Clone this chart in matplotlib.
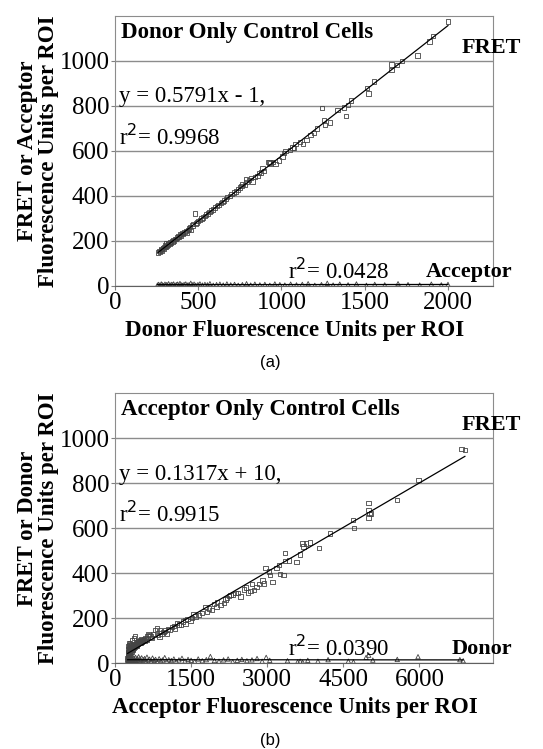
import numpy as np
import matplotlib
matplotlib.use("Agg")
import matplotlib.pyplot as plt

plt.rcParams['font.family'] = 'Liberation Serif'

# ---- panel (a): donor only control cells ----
donor_a = [259, 265, 270, 275, 280, 283, 288, 292, 298, 300, 305, 310, 312, 318, 322,
           328, 332, 338, 345, 350, 355, 360, 366, 372, 378, 385, 390, 398, 405, 410,
           418, 425, 430, 438, 445, 452, 458, 465, 470, 480, 485, 492, 500, 510, 520,
           530, 540, 548, 558, 568, 578, 590, 600, 612, 622, 635, 645, 655, 665, 672,
           690, 700, 715, 725, 738, 750, 760, 766, 780, 786, 790, 806, 816, 826, 842,
           855, 866, 876, 885, 896, 921, 929, 935, 950, 965, 985, 1005, 1015, 1025, 1050,
           1065, 1075, 1085, 1110, 1130, 1150, 1174, 1194, 1215, 1244, 1254, 1262, 1290, 1337, 1377,
           1387, 1400, 1419, 1512, 1522, 1556, 1661, 1661, 1695, 1725, 1817, 1890, 1910, 2000]
fret_a = [148, 155, 152, 160, 165, 158, 170, 166, 172, 180, 175, 188, 178, 184, 190,
          186, 195, 192, 198, 205, 200, 210, 208, 215, 220, 218, 228, 224, 236, 230,
          240, 245, 238, 250, 255, 262, 250, 268, 275, 322, 278, 282, 290, 292, 300,
          305, 312, 318, 322, 330, 335, 340, 348, 355, 360, 368, 372, 380, 386, 395,
          400, 408, 415, 420, 428, 437, 445, 452, 450, 476, 462, 470, 479, 465, 484,
          490, 501, 505, 523, 512, 552, 548, 545, 552, 542, 557, 575, 590, 601, 605,
          615, 612, 631, 641, 631, 650, 670, 681, 700, 790, 738, 715, 726, 782, 794,
          756, 805, 824, 879, 856, 908, 985, 960, 982, 1000, 1024, 1086, 1111, 1175]

acc_x_a = [255, 262, 270, 278, 285, 292, 300, 308, 315, 322, 330, 338, 345, 352, 360,
           368, 375, 383, 390, 398, 405, 415, 425, 435, 445, 455, 465, 475, 485, 498,
           510, 525, 540, 555, 570, 590, 610, 630, 650, 672, 695, 718, 740, 765, 790,
           815, 840, 870, 900, 930, 960, 990, 1020, 1055, 1090, 1125, 1160, 1200, 1240, 1275,
           1310, 1350, 1400, 1450, 1510, 1560, 1620, 1700, 1760, 1830, 1900, 1960, 2000]
acc_y_a = [4, 7, 3, 9, 5, 2, 8, 6, 4, 10, 3, 7, 5, 9, 2,
           6, 8, 4, 11, 5, 3, 7, 9, 4, 6, 12, 5, 8, 3, 6,
           9, 4, 7, 5, 10, 3, 6, 8, 4, 9, 5, 7, 3, 6, 10,
           4, 8, 5, 7, 3, 9, 6, 4, 8, 5, 7, 10, 3, 6, 12,
           4, 8, 5, 9, 3, 7, 5, 10, 6, 4, 8, 5, 7]
fit_a = (0.5791, -1)

# ---- panel (b): acceptor only control cells ----
acc_b = [250, 255, 258, 260, 262, 265, 268, 270, 272, 275, 278, 280, 283, 285, 288,
         290, 293, 295, 298, 300, 305, 308, 310, 315, 318, 320, 325, 330, 335, 340,
         345, 350, 355, 360, 365, 370, 375, 380, 388, 395, 400, 405, 412, 420, 428,
         435, 442, 450, 458, 465, 475, 485, 495, 505, 515, 525, 540, 555, 570, 585,
         600, 620, 640, 660, 680, 700, 726, 750, 792, 825, 850, 878, 891, 920, 957,
         990, 1023, 1050, 1075, 1122, 1160, 1188, 1221, 1260, 1300, 1340, 1386, 1386, 1430, 1485,
         1518, 1550, 1584, 1650, 1716, 1782, 1815, 1848, 1914, 1950, 2000, 2013, 2079, 2145, 2178,
         2210, 2244, 2277, 2320, 2376, 2429, 2475, 2541, 2580, 2627, 2673, 2700, 2739, 2792, 2838,
         2904, 2937, 2970, 3036, 3060, 3102, 3181, 3234, 3254, 3320, 3346, 3346, 3432, 3578, 3643,
         3696, 3716, 3762, 3848, 4026, 4244, 4686, 4706, 4996, 4996, 4996, 5016, 5050, 5557, 5986,
         6831, 6897]
fret_b = [20, 35, 48, 60, 28, 75, 42, 88, 55, 30, 65, 50, 80, 38, 58,
          70, 45, 90, 62, 52, 68, 48, 75, 58, 85, 62, 52, 70, 58, 100,
          65, 72, 60, 78, 68, 110, 72, 82, 70, 80, 120, 75, 85, 78, 92,
          82, 88, 95, 84, 90, 98, 88, 100, 92, 105, 95, 102, 98, 108, 100,
          112, 105, 118, 129, 124, 118, 110, 128, 147, 154, 125, 117, 144, 132, 139,
          145, 129, 150, 147, 161, 165, 154, 179, 172, 169, 185, 173, 191, 195, 188,
          199, 215, 206, 213, 221, 250, 228, 243, 236, 262, 250, 272, 258, 268, 283,
          290, 298, 302, 305, 312, 310, 295, 327, 335, 314, 321, 350, 324, 339, 351,
          366, 354, 421, 406, 390, 361, 421, 436, 396, 391, 453, 490, 455, 450, 483,
          532, 517, 532, 535, 512, 576, 636, 599, 710, 680, 646, 662, 665, 724, 813,
          951, 947]

don_x_b = [250, 254, 258, 262, 266, 270, 274, 278, 282, 286, 290, 295, 300, 305, 310,
           316, 322, 328, 335, 342, 350, 358, 366, 375, 385, 395, 405, 416, 428, 440,
           452, 465, 480, 495, 510, 525, 545, 565, 585, 605, 630, 655, 680, 710, 740,
           770, 800, 835, 870, 905, 940, 980, 1020, 1060, 1110, 1160, 1210, 1260, 1320, 1380,
           1440, 1500, 1570, 1640, 1720, 1800, 1880, 1960, 2050, 2140, 2230, 2320, 2410, 2500, 2600,
           2700, 2800, 2900, 2980, 3050, 3400, 3600, 3650, 3700, 3800, 4000, 4200, 4600, 4700, 4950,
           5000, 5082, 5564, 5973, 6798, 6864]
don_y_b = [12, 25, 5, 18, 30, 8, 22, 3, 15, 28, 10, 20, 6, 26, 14,
           2, 24, 11, 19, 7, 27, 13, 4, 22, 16, 9, 25, 12, 5, 20,
           14, 28, 8, 18, 11, 23, 6, 15, 20, 9, 26, 13, 17, 8, 22,
           12, 16, 5, 19, 10, 14, 24, 8, 15, 11, 18, 6, 14, 21, 9,
           16, 12, 7, 18, 10, 15, 29, 11, 8, 14, 18, 6, 12, 16, 10,
           14, 20, 8, 25, 12, 10, 5, 8, 3, 12, 8, 15, 8, 5, 25,
           35, 13, 16, 28, 15, 10]
fit_b = (0.1317, 10)


def panel(ax, x, y, tx, ty, fit, eq, r2, r2_low, title, bot_lab, xmax, xticks, xlab, ylab):
    ax.set_xlim(0, xmax)
    ax.set_ylim(0, 1200)
    ax.set_yticks(np.arange(0, 1001, 200))
    ax.set_xticks(xticks)
    ax.yaxis.grid(True, color='#8c8c8c', linewidth=1.0)
    ax.set_axisbelow(True)
    for s in ['top', 'right', 'left']:
        ax.spines[s].set_color('#8c8c8c')
    ax.spines['bottom'].set_color('#606060')
    ax.tick_params(labelsize=18, length=3, color='#808080', pad=1)

    ax.scatter(x, y, marker='s', s=10, facecolors='none', edgecolors='#444444', linewidths=0.6, zorder=3)
    ax.scatter(tx, ty, marker='^', s=10, facecolors='none', edgecolors='#444444', linewidths=0.6, zorder=3)

    # trendlines
    xs = np.array([min(x), max(x)])
    ax.plot(xs, fit[0] * xs + fit[1], color='black', linewidth=0.9, zorder=4)
    xt = np.array([min(tx), max(tx)])
    c1, c0 = np.polyfit(tx, ty, 1)
    ax.plot(xt, c1 * xt + c0, color='black', linewidth=0.9, zorder=4)

    ax.text(0.015, 0.94, title, transform=ax.transAxes, fontsize=16.5, fontweight='bold', va='center')
    ax.text(0.01, 0.70, eq, transform=ax.transAxes, fontsize=16.5, va='center')
    ax.text(0.01, 0.55, r2, transform=ax.transAxes, fontsize=16.5, va='center')
    ax.text(0.458, 0.055, r2_low, transform=ax.transAxes, fontsize=16.5, va='center')
    ax.text(0.918, 0.88, 'FRET', transform=ax.transAxes, fontsize=16, fontweight='bold', va='center', clip_on=False)
    ax.text(bot_lab[1], 0.052, bot_lab[0], transform=ax.transAxes, fontsize=16, fontweight='bold', va='center', clip_on=False)

    ax.set_xlabel(xlab, fontsize=16.5, fontweight='bold')
    ax.xaxis.set_label_coords(0.476, -0.125)
    ax.set_ylabel(ylab, fontsize=16.5, fontweight='bold', labelpad=0, linespacing=1.05)


fig = plt.figure(figsize=(5.43, 7.49), dpi=100)
ax1 = fig.add_axes([0.2118, 0.6182, 0.696, 0.3605])
ax2 = fig.add_axes([0.2118, 0.1148, 0.696, 0.3605])

panel(ax1, donor_a, fret_a, acc_x_a, acc_y_a, fit_a,
      'y = 0.5791x - 1,', 'r$^{2}$= 0.9968', 'r$^{2}$= 0.0428',
      'Donor Only Control Cells', ('Acceptor', 0.822), 2270,
      [0, 500, 1000, 1500, 2000], 'Donor Fluorescence Units per ROI',
      'FRET or Acceptor\nFluorescence Units per ROI')
panel(ax2, acc_b, fret_b, don_x_b, don_y_b, fit_b,
      'y = 0.1317x + 10,', 'r$^{2}$= 0.9915', 'r$^{2}$= 0.0390',
      'Acceptor Only Control Cells', ('Donor', 0.89), 7450,
      [0, 1500, 3000, 4500, 6000], 'Acceptor Fluorescence Units per ROI',
      'FRET or Donor\nFluorescence Units per ROI')

fig.text(0.497, 1 - 363 / 749, '(a)', fontsize=12, family='Liberation Sans', ha='center', va='center')
fig.text(0.497, 1 - 740 / 749, '(b)', fontsize=12, family='Liberation Sans', ha='center', va='center')

fig.savefig('out.png', dpi=100)
